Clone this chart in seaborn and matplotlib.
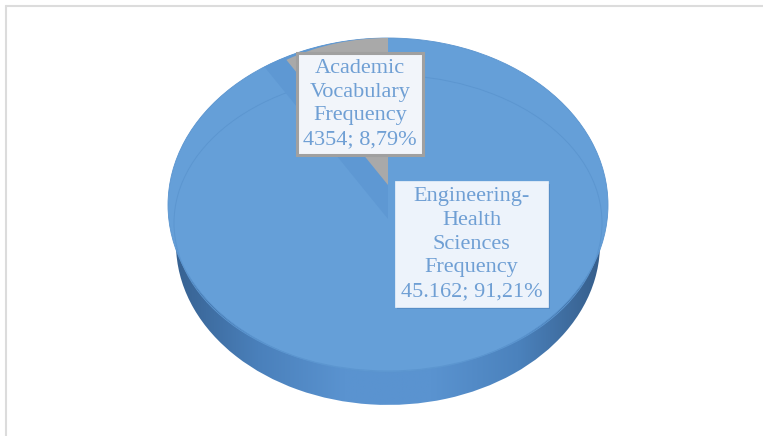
import numpy as np
import seaborn as sns
import matplotlib.pyplot as plt
import matplotlib.patheffects as pe
from matplotlib.lines import Line2D
from matplotlib.patches import Ellipse

# Data
categories = ['Academic\nVocabulary\nFrequency', 'Engineering-\nHealth\nSciences\nFrequency']
frequencies = [4354, 45162]
value_labels = ['4354; 8,79%', '45.162; 91,21%']

sns.set_theme(style='white')
plt.rcParams['font.family'] = ['Liberation Serif', 'DejaVu Serif']

W, H = 763, 436
CX, CY, RX, RY = 388, 205, 220, 167

face_blue = '#659fd8'
notch_blue = '#5e98d3'
edge_blue = '#5a94cf'
bevel_blue = '#5c96d0'
notch_gray = '#a9a9a9'
text_blue = '#6f9fd4'
wall_cmap = sns.blend_palette(['#36608f', '#4a80bb', '#5a93d0', '#5a93d0', '#4b82bd', '#355c88'], as_cmap=True)


# the axes run in pie units, so the round pie comes out as a flat ellipse
def ux(px):
    return (px - CX) / RX


def uy(py):
    return (CY - py) / RY


fig = plt.figure(figsize=(W / 100, H / 100), dpi=100)
ax = fig.add_axes([0, 0, 1, 1])

# Side wall of the disc: gradient clipped to a lower, slightly smaller pie
wall, _ = ax.pie(frequencies, startangle=90, radius=212 / RX, center=(0, uy(244)),
                 colors=['none', 'none'], wedgeprops={'linewidth': 0})
gradient = np.linspace(0, 1, 256).reshape(1, -1)
for w in wall:
    im = ax.imshow(gradient, cmap=wall_cmap, aspect='auto', zorder=0.5,
                   extent=(ux(170), ux(606), uy(410), uy(200)))
    im.set_clip_path(w)

# Top face
top, _ = ax.pie(frequencies, startangle=90, radius=1, center=(0, 0),
                colors=[face_blue, face_blue], wedgeprops={'linewidth': 0, 'zorder': 2})
outline, _ = ax.pie([1], radius=1, center=(0, 0), colors=['none'],
                    wedgeprops={'linewidth': 0.6, 'edgecolor': edge_blue, 'zorder': 2.1})

# Bevel line on the face
bevel = Ellipse((0, uy(223)), 2 * 214 / RX, 2 * 148 / RY, fc='none', ec=bevel_blue, lw=0.7, zorder=2.2)
ax.add_patch(bevel)

# Notch left by the small slice: darker wall, then gray slice
notch, _ = ax.pie(frequencies, startangle=90, radius=1.3, center=(0, uy(219)),
                  colors=[notch_blue, 'none'], wedgeprops={'linewidth': 0, 'zorder': 2.3})
notch[0].set_clip_on(True)
notch[0].set_clip_path(outline[0])
ax.pie(frequencies, startangle=90, radius=147 / RY, center=(0, uy(185)),
       colors=[notch_gray, 'none'], wedgeprops={'linewidth': 0, 'zorder': 2.4})

ax.set_aspect('auto')
ax.set_xlim(ux(0), ux(W))
ax.set_ylim(uy(H), uy(0))
ax.axis('off')

# Data labels
label_styles = [
    {'xy': (360, 104), 'box': dict(boxstyle='square,pad=0.26', fc='#f2f5fa', ec='#a0a0a0', lw=2.2)},
    {'xy': (471.5, 244), 'box': dict(boxstyle='square,pad=0.26', fc='#edf3fb', ec='#edf3fb', lw=0.5)},
]
for cat, val, st in zip(categories, value_labels, label_styles):
    t = ax.text(ux(st['xy'][0]), uy(st['xy'][1]), f'{cat}\n{val}', ha='center', va='center',
                fontsize=16, color=text_blue, linespacing=1.33, zorder=5, bbox=st['box'])
    t.get_bbox_patch().set_path_effects([
        pe.SimplePatchShadow(offset=(1.5, -1.5), shadow_rgbFace='#2f5f95', alpha=0.25),
        pe.Normal(),
    ])

# Faint frame of the original picture, top and left only
frame = '#dcdcdc'
fig.add_artist(Line2D([6 / W, 1], [1 - 6 / H, 1 - 6 / H], color=frame, lw=1.5))
fig.add_artist(Line2D([6 / W, 6 / W], [0, 1 - 6 / H], color=frame, lw=1.5))

fig.savefig('out.png', dpi=100)
